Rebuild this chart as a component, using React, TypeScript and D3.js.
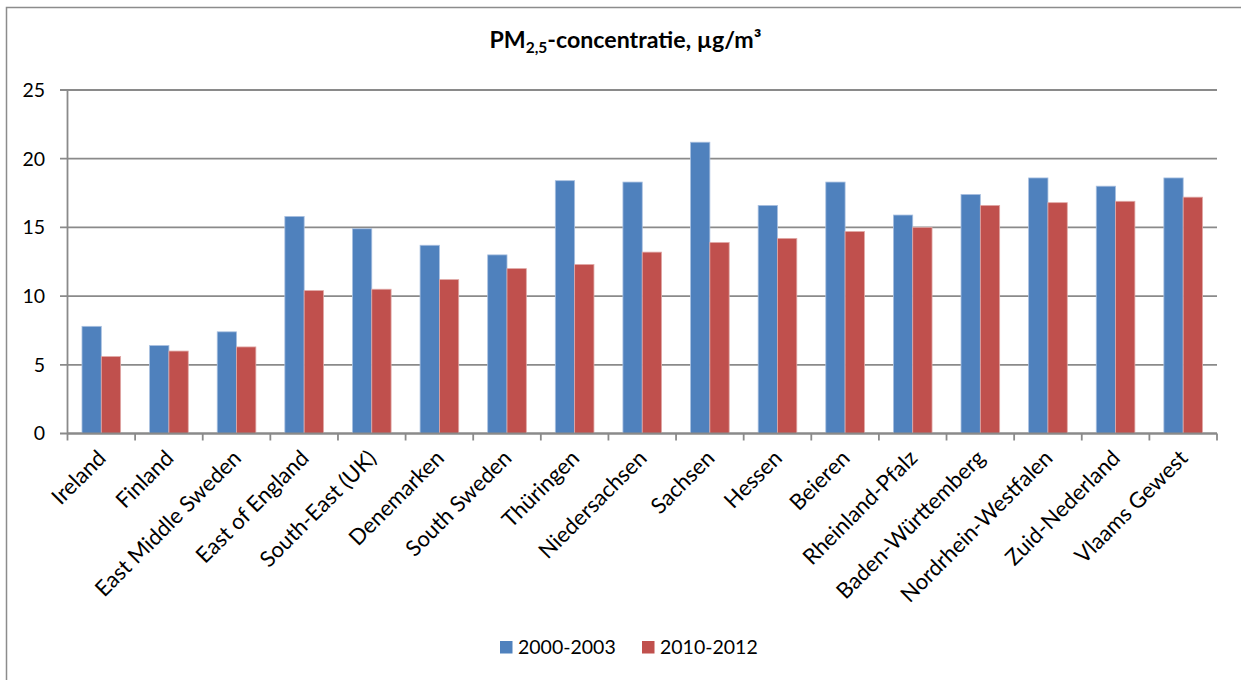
import React from "react";
import * as d3 from "d3";

const categories = [
  "Ireland",
  "Finland",
  "East Middle Sweden",
  "East of England",
  "South-East (UK)",
  "Denemarken",
  "South Sweden",
  "Thüringen",
  "Niedersachsen",
  "Sachsen",
  "Hessen",
  "Beieren",
  "Rheinland-Pfalz",
  "Baden-Württemberg",
  "Nordrhein-Westfalen",
  "Zuid-Nederland",
  "Vlaams Gewest",
];
const series2000 = [7.8, 6.4, 7.4, 15.8, 14.9, 13.7, 13.0, 18.4, 18.3, 21.2, 16.6, 18.3, 15.9, 17.4, 18.6, 18.0, 18.6];
const series2010 = [5.6, 6.0, 6.3, 10.4, 10.5, 11.2, 12.0, 12.3, 13.2, 13.9, 14.2, 14.7, 15.0, 16.6, 16.8, 16.9, 17.2];
const seriesNames = ["2000-2003", "2010-2012"];
const yTicks = [0, 5, 10, 15, 20, 25];

const W = 1241;
const H = 680;
const FONT = "Lato, 'Open Sans', sans-serif";
const COLORS = ["#4F81BD", "#C0504D"];
const EDGE = ["#a9c0e0", "#e0a8a6"];

export default function App() {
  const left = 67.5;
  const right = 1217;
  const top = 90;
  const bottom = 433.5;
  const x = d3.scaleBand<string>().domain(categories).range([left, right]).paddingInner(0).paddingOuter(0);
  const y = d3.scaleLinear().domain([0, 25]).range([bottom, top]);
  const cell = x.bandwidth();
  const barW = cell / 3.5;
  const data = [series2000, series2010];
  const grid = "#8a8a8a";

  return (
    <svg
      width={W}
      height={H}
      style={{ position: "fixed", left: 0, top: 0, display: "block", background: "#fff" }}
      fontFamily={FONT}
    >
      <rect x={6.5} y={7.5} width={W} height={H} fill="#fff" stroke="#8c8c8c" strokeWidth={1.5} />
      {/* title */}
      <text x={625.5} y={48} textAnchor="middle" fontSize={23.2} fontWeight="bold" fill="#000">
        PM<tspan fontSize={15.5} dy={5}>2,5</tspan>
        <tspan dy={-5}>-concentratie, µg/m³</tspan>
      </text>
      {/* gridlines + y ticks */}
      {yTicks.map((t) => (
        <g key={t}>
          <line x1={60} x2={right} y1={y(t)} y2={y(t)} stroke={grid} strokeWidth={1.8} />
          <text x={45} y={y(t)} dy="0.35em" textAnchor="end" fontSize={19.5} fill="#000">
            {t}
          </text>
        </g>
      ))}
      {/* bars */}
      {categories.map((c, i) => (
        <g key={c}>
          {data.map((s, k) => {
            const bx = (x(c) as number) + barW * 0.75 + k * barW;
            return (
              <rect
                key={k}
                x={bx}
                y={y(s[i])}
                width={barW}
                height={y(0) - y(s[i])}
                fill={COLORS[k]}
                stroke={EDGE[k]}
                strokeWidth={0.8}
              />
            );
          })}
        </g>
      ))}
      {/* axes */}
      <line x1={left} x2={left} y1={top} y2={bottom} stroke={grid} strokeWidth={1.8} />
      <line x1={left} x2={right} y1={bottom} y2={bottom} stroke={grid} strokeWidth={1.8} />
      {categories.concat([""]).map((c, i) => {
        const tx = left + i * cell;
        return <line key={"t" + i} x1={tx} x2={tx} y1={bottom} y2={bottom + 7} stroke={grid} strokeWidth={1.8} />;
      })}
      {/* x labels */}
      {categories.map((c) => {
        const cx = (x(c) as number) + cell / 2 + 6;
        const cy = bottom + 26;
        return (
          <text
            key={"l" + c}
            x={cx}
            y={cy}
            textAnchor="end"
            fontSize={22}
            fill="#000"
            transform={`rotate(-45 ${cx} ${cy})`}
          >
            {c}
          </text>
        );
      })}
      {/* legend */}
      {seriesNames.map((n, k) => {
        const lx = [500, 642][k];
        return (
          <g key={n}>
            <rect x={lx} y={641} width={12.5} height={12.5} fill={COLORS[k]} />
            <text x={lx + 18} y={654} fontSize={19.5} fill="#000">
              {n}
            </text>
          </g>
        );
      })}
    </svg>
  );
}
